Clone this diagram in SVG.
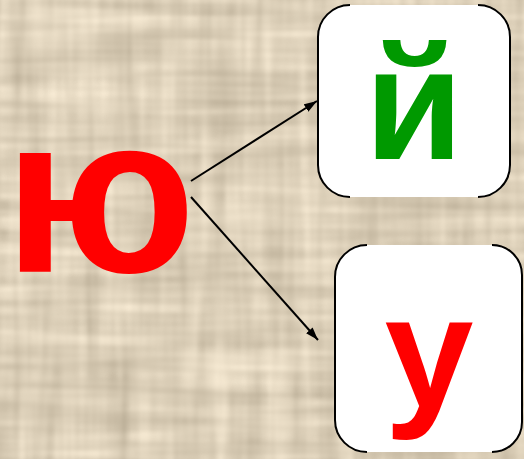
<svg xmlns="http://www.w3.org/2000/svg" width="524" height="459" viewBox="0 0 524 459">
  <defs>
    <filter id="paper" x="0" y="0" width="100%" height="100%" color-interpolation-filters="sRGB">
      <feTurbulence type="fractalNoise" baseFrequency="0.006 0.07" numOctaves="2" seed="3" result="h"/>
      <feTurbulence type="fractalNoise" baseFrequency="0.07 0.006" numOctaves="2" seed="11" result="v"/>
      <feComposite in="h" in2="v" operator="arithmetic" k1="0" k2="0.55" k3="0.45" k4="0" result="n"/>
      <feColorMatrix in="n" type="matrix" values="0.38 0 0 0 0.67  0.38 0 0 0 0.62  0.38 0 0 0 0.53  0 0 0 0 1"/>
    </filter>
    <marker id="arrow" viewBox="0 0 12 8" refX="12" refY="4" markerWidth="13" markerHeight="9" markerUnits="userSpaceOnUse" orient="auto">
      <path d="M0,0 L12,4 L0,8 Z" fill="#000"/>
    </marker>
    <style>
      .card { fill: #ffffff; }
      .edge { fill: none; stroke: #000; stroke-width: 2; }
      .conn { stroke: #000; stroke-width: 2; fill: none; }
      .glyph { font-family: "Liberation Sans", Arial, sans-serif; font-weight: bold; text-anchor: middle; }
    </style>
  </defs>
  <rect x="0" y="0" width="524" height="459" fill="#ddd0b8"/>
  <rect x="0" y="0" width="524" height="459" filter="url(#paper)"/>

  <g id="node-yu">
    <text class="glyph" x="100" y="272" font-size="224" fill="#ff0000">ю</text>
  </g>

  <g id="node-y-short">
    <rect class="card" x="318" y="5" width="192" height="192" rx="31" ry="31"/>
    <path class="edge" d="M350,5 A32,32 0 0 0 318,37 L318,165 A32,32 0 0 0 350,197 M478,5 A32,32 0 0 1 510,37 L510,165 A32,32 0 0 1 478,197"/>
    <text class="glyph" x="414" y="159" font-size="160" fill="#009900">й</text>
  </g>

  <g id="node-u">
    <rect class="card" x="335" y="245" width="187" height="207" rx="31" ry="31"/>
    <path class="edge" d="M367,245 A32,32 0 0 0 335,277 L335,420 A32,32 0 0 0 367,452 M492,245 A30,30 0 0 1 522,275 L522,422 A30,30 0 0 1 492,452"/>
    <text class="glyph" x="429" y="407" font-size="160" fill="#ff0000">у</text>
  </g>

  <g id="connectors">
    <line class="conn" x1="191" y1="181" x2="317" y2="101" marker-end="url(#arrow)"/>
    <line class="conn" x1="191" y1="197" x2="318" y2="340" marker-end="url(#arrow)"/>
  </g>
</svg>
